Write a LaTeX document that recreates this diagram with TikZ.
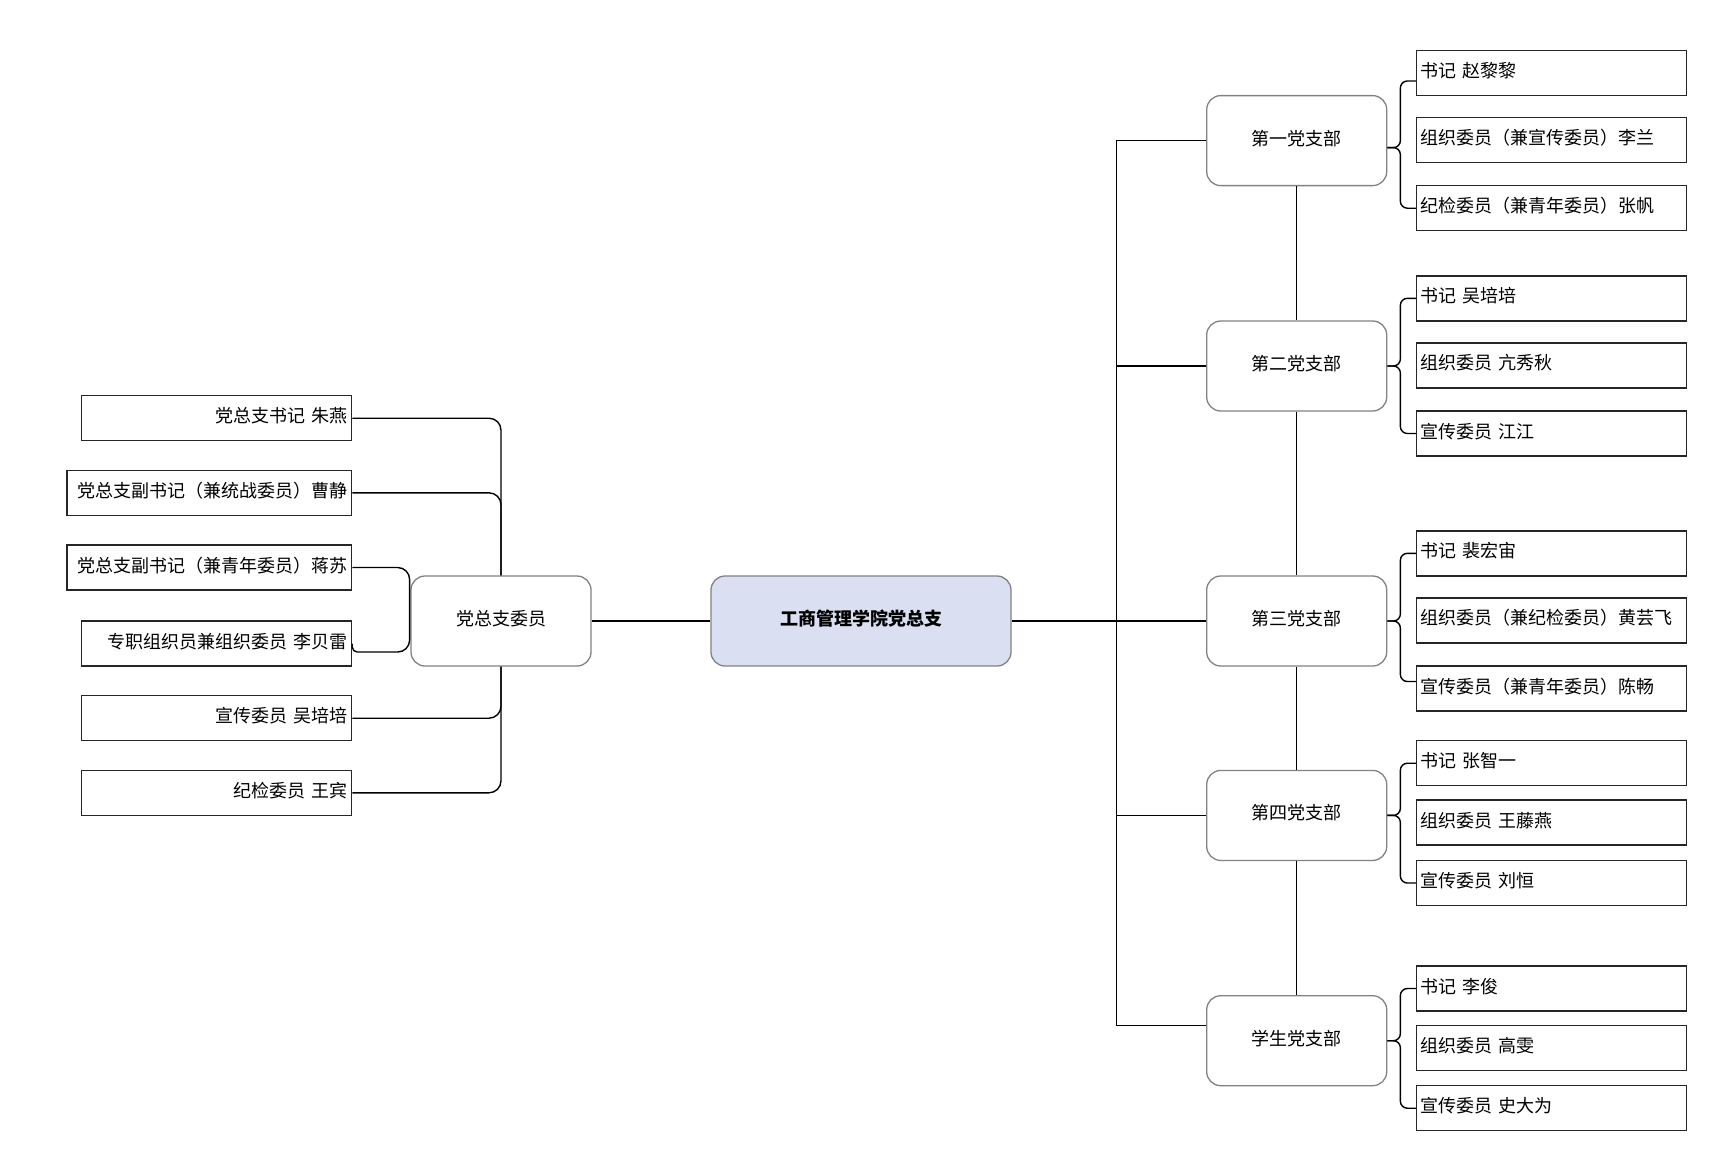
\documentclass[tikz,border=0pt]{standalone}
\usepackage{fontspec}
\setmainfont{Noto Sans CJK SC}
\definecolor{centerfill}{RGB}{218,224,242}
\definecolor{boxgray}{RGB}{130,130,130}
\begin{document}
\begin{tikzpicture}[x=1pt,y=-1pt,
  conn/.style={draw=black, line width=1.4pt, rounded corners=12pt},
  sharpline/.style={draw=black, line width=1.4pt},
  bracel/.style={draw=black, line width=1.4pt, rounded corners=7pt},
  txt/.style={font=\fontsize{18pt}{21pt}\selectfont, text height=14pt, text depth=5pt},
  leaf/.style={txt, draw=black!85, line width=1.5pt, minimum height=45pt, text width=263pt, inner xsep=3.5pt, inner ysep=0pt, align=left, fill=white},
  lshort/.style={txt, draw=black!85, line width=1.5pt, minimum height=45pt, text width=262pt, inner xsep=4pt, inner ysep=0pt, align=right, fill=white},
  llong/.style={txt, draw=black!85, line width=1.5pt, minimum height=45pt, text width=276.5pt, inner xsep=4pt, inner ysep=0pt, align=right, fill=white},
  branchbox/.style={txt, draw=boxgray, line width=1.3pt, rounded corners=14pt, minimum width=180pt, minimum height=90pt, fill=white},
  centerbox/.style={txt, font=\fontsize{18pt}{21pt}\selectfont\bfseries, draw=boxgray, line width=1.3pt, rounded corners=14pt, minimum width=300pt, minimum height=90pt, fill=centerfill}
]
\useasboundingbox[fill=white] (0,0) rectangle (1723,1163);

% left boxes
\node[lshort] (m1) at (216.5,418.2) {党总支书记 朱燕};
\node[llong]  (m2) at (209.3,492.8) {党总支副书记（兼统战委员）曹静};
\node[llong]  (m3) at (209.3,567.5) {党总支副书记（兼青年委员）蒋苏};
\node[lshort] (m4) at (216.5,643.5) {专职组织员兼组织委员 李贝雷};
\node[lshort] (m5) at (216.5,718.2) {宣传委员 吴培培};
\node[lshort] (m6) at (216.5,792.8) {纪检委员 王宾};

% committee and centre
\node[branchbox] (cm) at (501,621) {党总支委员};
\node[centerbox] (c) at (861,621) {工商管理学院党总支};

% branches
\node[branchbox] (b1) at (1296.7,140.6) {第一党支部};
\node[branchbox] (b2) at (1296.7,366) {第二党支部};
\node[branchbox] (b3) at (1296.7,621) {第三党支部};
\node[branchbox] (b4) at (1296.7,815.4) {第四党支部};
\node[branchbox] (b5) at (1296.7,1040.7) {学生党支部};

% leaves
\node[leaf] (l11) at (1551.6,73)    {书记 赵黎黎};
\node[leaf] (l12) at (1551.6,140.1) {组织委员（兼宣传委员）李兰};
\node[leaf] (l13) at (1551.6,208.2) {纪检委员（兼青年委员）张帆};
\node[leaf] (l21) at (1551.6,298.3) {书记 吴培培};
\node[leaf] (l22) at (1551.6,365.4) {组织委员 亢秀秋};
\node[leaf] (l23) at (1551.6,433.5) {宣传委员 江江};
\node[leaf] (l31) at (1551.6,553.3) {书记 裴宏宙};
\node[leaf] (l32) at (1551.6,620.3) {组织委员（兼纪检委员）黄芸飞};
\node[leaf] (l33) at (1551.6,688.5) {宣传委员（兼青年委员）陈畅};
\node[leaf] (l41) at (1551.6,763.2) {书记 张智一};
\node[leaf] (l42) at (1551.6,822.5) {组织委员 王藤燕};
\node[leaf] (l43) at (1551.6,883)   {宣传委员 刘恒};
\node[leaf] (l51) at (1551.6,988.5) {书记 李俊};
\node[leaf] (l52) at (1551.6,1047.8) {组织委员 高雯};
\node[leaf] (l53) at (1551.6,1108.2) {宣传委员 史大为};

% left connectors
\draw[conn] (m1.east) -| (cm.north);
\draw[conn] (m2.east) -| (cm.north);
\draw[conn] (m3.east) -| ([xshift=-0.7pt]cm.west);
\draw[sharpline] (m4.east) [rounded corners=5pt] -- ([yshift=-8.5pt]m4.east) [rounded corners=12pt] -| ([xshift=-0.7pt]cm.west);
\draw[conn] (m5.east) -| (cm.south);
\draw[conn] (m6.east) -| (cm.south);

% centre connectors
\draw[sharpline] (cm.east) -- (c.west);
\coordinate (bus) at (1116.5,621);
\draw[sharpline] (c.east) -- (bus);
\draw[sharpline] (bus) |- (b1.west);
\draw[sharpline] (bus) |- (b2.west);
\draw[sharpline] (bus) -- (b3.west);
\draw[sharpline] (bus) |- (b4.west);
\draw[sharpline] (bus) |- ([yshift=15pt]b5.west);

% branch chain
\draw[sharpline] (b1.south) -- (b2.north);
\draw[sharpline] (b2.south) -- (b3.north);
\draw[sharpline] (b3.south) -- (b4.north);
\draw[sharpline] (b4.south) -- (b5.north);

% braces
\draw[bracel] ([yshift=-7pt]b1.east) -| ([xshift=-15.5pt,yshift=-8pt]l11.west) -- ([yshift=-8pt]l11.west);
\draw[bracel] ([yshift=-7pt]b1.east) -| ([xshift=-15.5pt]l13.west) -- (l13.west);
\draw[bracel] (b2.east) -| ([xshift=-15.5pt]l21.west) -- (l21.west);
\draw[bracel] (b2.east) -| ([xshift=-15.5pt]l23.west) -- (l23.west);
\draw[bracel] (b3.east) -| ([xshift=-15.5pt]l31.west) -- (l31.west);
\draw[bracel] (b3.east) -| ([xshift=-15.5pt,yshift=7pt]l33.west) -- ([yshift=7pt]l33.west);
\draw[bracel] (b4.east) -| ([xshift=-15.5pt]l41.west) -- (l41.west);
\draw[bracel] (b4.east) -| ([xshift=-15.5pt]l43.west) -- (l43.west);
\draw[bracel] (b5.east) -| ([xshift=-15.5pt]l51.west) -- (l51.west);
\draw[bracel] (b5.east) -| ([xshift=-15.5pt]l53.west) -- (l53.west);
\end{tikzpicture}
\end{document}
